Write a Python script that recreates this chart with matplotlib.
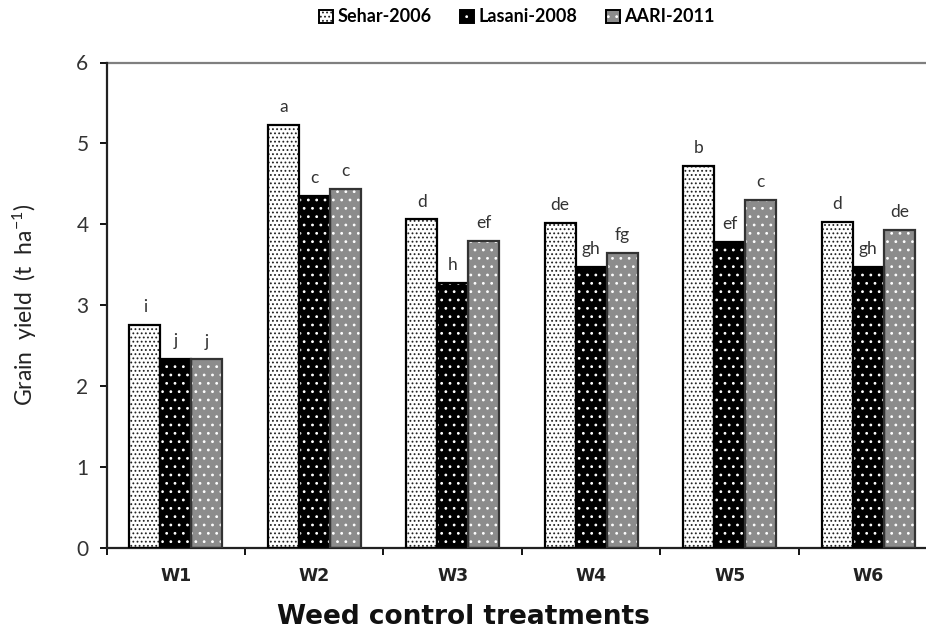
import numpy as np
import matplotlib
matplotlib.use("Agg")
import matplotlib.pyplot as plt
from matplotlib.patches import Patch, Rectangle
from matplotlib.legend_handler import HandlerPatch

# Grain yield (t/ha) per weed control treatment and variety
treatments = ["W1", "W2", "W3", "W4", "W5", "W6"]
varieties = ["Sehar-2006", "Lasani-2008", "AARI-2011"]
sehar = [2.76, 5.23, 4.06, 4.02, 4.72, 4.03]
lasani = [2.34, 4.35, 3.28, 3.47, 3.78, 3.47]
aari = [2.33, 4.44, 3.80, 3.65, 4.30, 3.93]
sehar_letters = ["i", "a", "d", "de", "b", "d"]
lasani_letters = ["j", "c", "h", "gh", "ef", "gh"]
aari_letters = ["j", "c", "ef", "fg", "c", "de"]

series = [sehar, lasani, aari]
letters = [sehar_letters, lasani_letters, aari_letters]

# fill colour, dot colour, hatch pattern, outline colour
styles = [
    ("white", "#222222", "....", "black"),
    ("black", "white", "..", "black"),
    ("#8c8c8c", "white", "..", "#333333"),
]

plt.rcParams["hatch.linewidth"] = 0.8
plt.rcParams["mathtext.default"] = "regular"

fig = plt.figure(figsize=(9.26, 6.30), dpi=100)
ax = fig.add_axes([106.5 / 926, 82 / 630, 831 / 926, 485.5 / 630])

x = np.arange(len(treatments))
width = 0.224
offsets = [-width, 0.0, width]

for vals, labs, off, (fc, hc, hatch, ec) in zip(series, letters, offsets, styles):
    pos = x + off
    ax.bar(pos, vals, width, color=fc, edgecolor=hc, hatch=hatch, linewidth=0, zorder=2)
    ax.bar(pos, vals, width, fill=False, edgecolor=ec, linewidth=1.6, zorder=3)
    for px, v, t in zip(pos, vals, labs):
        ax.annotate(t, (px, v), xytext=(0, 7), textcoords="offset points",
                    ha="center", va="bottom", fontsize=12.5, color="#333333",
                    family="Lato")

ax.set_xlim(-0.5, len(treatments) - 0.5)
ax.set_ylim(0, 6)
ax.axhline(6, color="#7f7f7f", linewidth=1.6, zorder=1, clip_on=False)

# category boundaries carry the tick marks, centres carry the labels
ax.set_xticks(np.arange(-0.5, len(treatments), 1.0))
ax.set_xticklabels([])
ax.set_xticks(x, minor=True)
ax.set_xticklabels(treatments, minor=True, fontsize=12.5, fontweight="bold",
                   family="DejaVu Sans", color="#222222")
ax.tick_params(axis="x", which="minor", length=0, pad=14)
ax.tick_params(axis="x", which="major", length=5, width=1.3, direction="out")

ax.set_yticks(np.arange(0, 7, 1))
ax.set_yticklabels([str(v) for v in range(7)], fontsize=15, family="Lato",
                   color="#333333")
ax.tick_params(axis="y", length=5, width=1.3, direction="out", pad=8)

for side in ("top", "right"):
    ax.spines[side].set_visible(False)
for side in ("left", "bottom"):
    ax.spines[side].set_linewidth(1.6)
    ax.spines[side].set_color("#222222")

ax.set_ylabel("Grain  yield  (t  ha$^{-1}$)", fontsize=16.5, family="Lato",
              color="#222222")
ax.yaxis.set_label_coords(-0.081, 0.5)
fig.text(463 / 926, 1 - 617 / 630, "Weed control treatments", ha="center",
         va="center", fontsize=19, fontweight="bold", family="DejaVu Sans",
         color="#111111")

handles = [Patch(facecolor=fc, edgecolor=hc, hatch=hatch, linewidth=0)
           for fc, hc, hatch, ec in styles]


class OutlinedHandler(HandlerPatch):
    def create_artists(self, legend, orig_handle, xdescent, ydescent, width,
                       height, fontsize, trans):
        arts = super().create_artists(legend, orig_handle, xdescent, ydescent,
                                      width, height, fontsize, trans)
        box = Rectangle((-xdescent, -ydescent), width, height, fill=False,
                        edgecolor="black", linewidth=1.4, transform=trans)
        return arts + [box]


leg = fig.legend(handles, varieties, loc="center",
                 bbox_to_anchor=(517 / 926, 1 - 17 / 630),
                 ncol=3, frameon=False, handlelength=0.75, handleheight=0.75,
                 handletextpad=0.25, columnspacing=1.6,
                 prop={"family": "Lato", "weight": "bold", "size": 13},
                 handler_map={Patch: OutlinedHandler()})

fig.savefig("out.png", dpi=100)
